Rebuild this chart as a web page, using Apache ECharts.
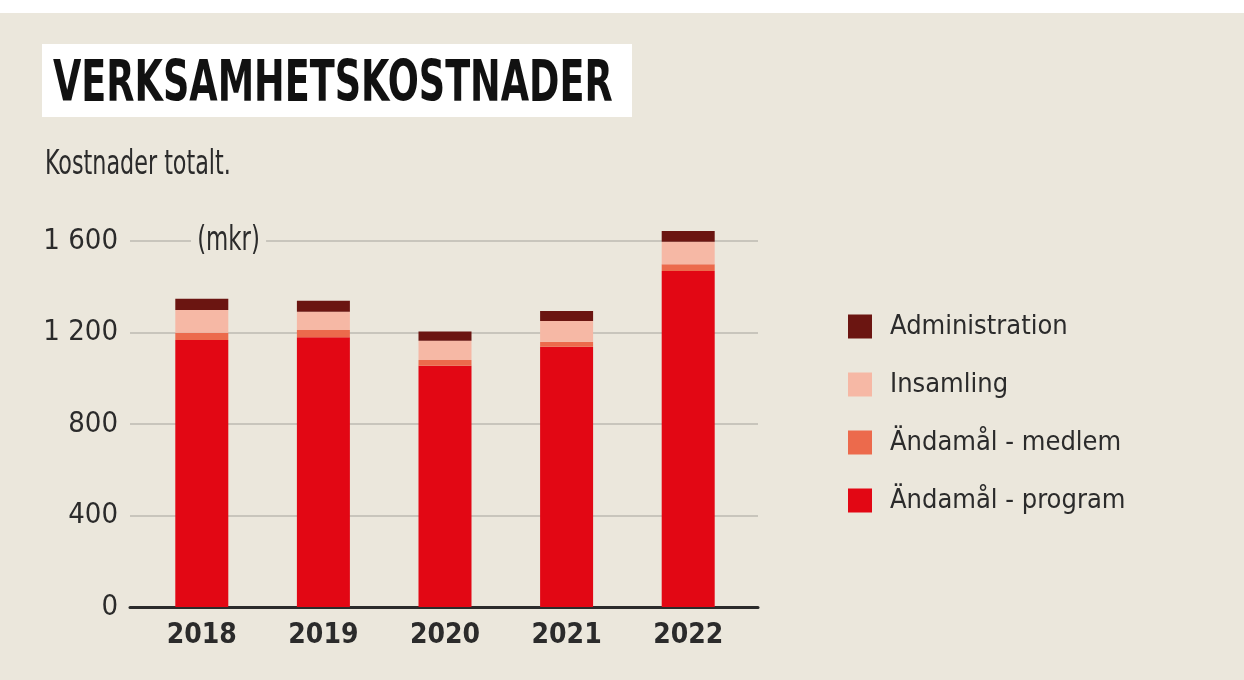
<!DOCTYPE html>
<html>
<head>
<meta charset="utf-8">
<script src="https://cdn.jsdelivr.net/npm/echarts@6/dist/echarts.min.js"></script>
<style>
html,body{margin:0;padding:0;background:#fff;}
#chart{width:1244px;height:680px;}
</style>
</head>
<body>
<div id="chart"></div>
<script>
const years = ['2018', '2019', '2020', '2021', '2022'];
const program = [1167, 1179, 1055, 1138, 1469];
const medlem = [32, 32, 25, 22, 29];
const insamling = [99, 80, 84, 90, 99];
const administration = [49, 48, 40, 44, 47];
const yTicks = [0, 400, 800, 1200, 1600];
const legendNames = ['Administration', 'Insamling', 'Ändamål - medlem', 'Ändamål - program'];

const BG = '#ebe7dc';
const NARROW = "'Liberation Sans Narrow', 'DejaVu Sans Condensed', sans-serif";
const TXT = '#2b2b2b';
const colors = {
  program: '#e20714',
  medlem: '#ec6a4c',
  insamling: '#f6b8a5',
  admin: '#6b1511'
};

function fmt(v) {
  return String(v).replace(/\B(?=(\d{3})+(?!\d))/g, ' ');
}

const chart = echarts.init(document.getElementById('chart'), null, {renderer: 'canvas'});
chart.setOption({
  backgroundColor: BG,
  animation: false,
  grid: [
    {left: 130, right: 486, top: 241, bottom: 73},
    {left: 141, right: 495, top: 241, bottom: 73}
  ],
  xAxis: [
    {type: 'value', gridIndex: 0, min: 0, max: 1, show: true,
     axisLine: {show: true, onZero: false, lineStyle: {color: '#2b2b2b', width: 3}},
     axisTick: {show: false}, axisLabel: {show: false}, splitLine: {show: false}},
    {type: 'category', gridIndex: 1, data: years,
     axisLine: {show: false}, axisTick: {show: false},
     axisLabel: {margin: 15, color: TXT, fontFamily: NARROW, fontWeight: 'bold', fontSize: 28}}
  ],
  yAxis: [
    {type: 'value', gridIndex: 0, min: yTicks[0], max: yTicks[yTicks.length - 1], interval: yTicks[1] - yTicks[0],
     axisLine: {show: false}, axisTick: {show: false},
     axisLabel: {margin: 12, color: TXT, fontFamily: NARROW, fontSize: 29, formatter: fmt},
     splitLine: {show: true, lineStyle: {color: '#bdbab2', width: 1.5}}},
    {type: 'value', gridIndex: 1, min: yTicks[0], max: yTicks[yTicks.length - 1], interval: yTicks[1] - yTicks[0],
     show: false, splitLine: {show: false}}
  ],
  legend: {
    orient: 'vertical',
    left: 843,
    top: 308,
    data: legendNames,
    icon: 'rect',
    itemWidth: 24,
    itemHeight: 24,
    itemGap: 31,
    textStyle: {color: TXT, fontFamily: NARROW, fontSize: 27, padding: [0, 0, 0, 13]},
    selectedMode: false
  },
  series: [
    {name: 'Ändamål - program', type: 'bar', stack: 't', xAxisIndex: 1, yAxisIndex: 1, barWidth: 53, clip: false,
     itemStyle: {color: colors.program}, data: program},
    {name: 'Ändamål - medlem', type: 'bar', stack: 't', xAxisIndex: 1, yAxisIndex: 1, clip: false,
     itemStyle: {color: colors.medlem}, data: medlem},
    {name: 'Insamling', type: 'bar', stack: 't', xAxisIndex: 1, yAxisIndex: 1, clip: false,
     itemStyle: {color: colors.insamling}, data: insamling},
    {name: 'Administration', type: 'bar', stack: 't', xAxisIndex: 1, yAxisIndex: 1, clip: false,
     itemStyle: {color: colors.admin}, data: administration}
  ],
  graphic: [
    {type: 'rect', left: 0, top: 0, shape: {width: 1244, height: 13}, style: {fill: '#ffffff'}, silent: true},
    {type: 'rect', left: 42, top: 44, shape: {width: 590, height: 73}, style: {fill: '#ffffff'}, silent: true},
    {type: 'text', x: 53, y: 86, scaleX: 0.714,
     style: {text: 'VERKSAMHETSKOSTNADER', fill: '#111', font: "bold 57px 'Liberation Sans Narrow', 'DejaVu Sans Condensed', sans-serif", verticalAlign: 'middle', textAlign: 'left'}},
    {type: 'text', x: 45, y: 165, scaleX: 0.75,
     style: {text: 'Kostnader totalt.', fill: TXT, font: "33px 'Liberation Sans Narrow', 'DejaVu Sans Condensed', sans-serif", verticalAlign: 'middle'}},
    {type: 'text', x: 191, y: 241, z: 10, scaleX: 0.77,
     style: {text: '(mkr)', fill: TXT, font: "33px 'Liberation Sans Narrow', 'DejaVu Sans Condensed', sans-serif", verticalAlign: 'middle',
       backgroundColor: BG, padding: [0, 8, 0, 8]}}
  ]
});
</script>
</body>
</html>
